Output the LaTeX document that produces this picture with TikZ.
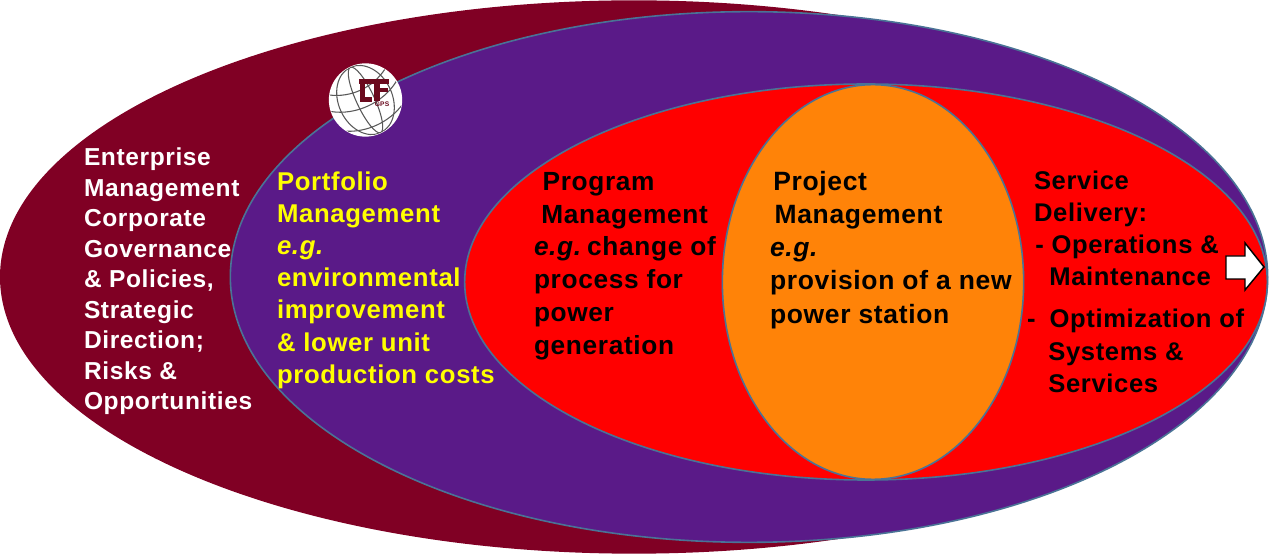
\documentclass[tikz,border=0pt]{standalone}
\usetikzlibrary{shapes.geometric}
\usepackage{fontspec}
\setmainfont{Liberation Sans}[LetterSpace=2.5]
\definecolor{maroonc}{HTML}{800024}
\definecolor{purplec}{HTML}{5A1A88}
\definecolor{redc}{HTML}{FF0000}
\definecolor{orangec}{HTML}{FF8308}
\definecolor{edgec}{HTML}{4A7396}
\definecolor{logoc}{HTML}{6B0A1E}
\definecolor{yellowc}{HTML}{FFFF00}
\tikzset{
  oval/.style={ellipse,draw=edgec,line width=1.2pt,inner sep=0pt,outer sep=0pt},
  txt/.style 2 args={anchor=north west,inner sep=0pt,outer sep=0pt,align=left,font=\fontsize{#1}{#2}\selectfont\bfseries},
  gridline/.style={draw=black!65,line width=0.8pt},
  tfbar/.style={fill=logoc,draw=none}
}
\begin{document}
\begin{tikzpicture}[x=0.75pt,y=-0.75pt]
\useasboundingbox (0,0) rectangle (1271,555);
\node[oval,draw=none,fill=maroonc,minimum width=951pt,minimum height=415pt] (enterprise) at (634,277) {};
\node[oval,fill=purplec,minimum width=778pt,minimum height=398pt] (portfolio) at (749,277) {};
\node[oval,fill=redc,minimum width=602pt,minimum height=297pt] (program) at (866,282) {};
\node[oval,fill=orangec,minimum width=226pt,minimum height=296pt] (project) at (873,282) {};
% texts
\node[txt={18.4pt}{22.85pt},text=white] (t1) at (84,148) {Enterprise\\Management\\Corporate\\Governance\\\&\ Policies,\\Strategic\\Direction;\\Risks \&\\Opportunities};
\node[txt={19.3pt}{24.15pt},text=yellowc] (t2) at (277,171.5) {Portfolio\\Management\\\textit{e.g.}\\environmental\\improvement\\\&\ lower unit\\production costs};
\node[txt={19.7pt}{24.7pt},text=black] (t3) at (534,172) {\hspace*{6.5pt}Program\\\hspace*{5.5pt}Management\\\textit{e.g.}\hspace*{4pt}change of\\process for\\power\\generation};
\node[txt={19.85pt}{24.95pt},text=black] (t4) at (770,171) {\hspace*{2.5pt}Project\\\hspace*{3.5pt}Management\\\textit{e.g.}\\provision of a new\\power station};
\node[txt={19.2pt}{24pt},text=black] (t5) at (1034,171) {Service\\Delivery:\\\hspace*{1pt}- Operations \&\\\hspace*{11.5pt}Maintenance};
\node[txt={19.2pt}{24.4pt},text=black] (t6) at (1027,309) {-\hspace*{10.5pt}Optimization of\\\hspace*{16pt}Systems \&\\\hspace*{16pt}Services};
% arrow
\draw[fill=white,draw=black,line width=1.1pt,line join=miter] (1226,256) -- (1245,256) -- (1245,243) -- (1264,267) -- (1245,290) -- (1245,279) -- (1226,279) -- cycle;
% logo
\node[circle,fill=white,minimum width=55pt,inner sep=0pt,outer sep=0pt] (globe) at (365.5,100) {};
\begin{scope}
\clip (globe.center) circle[radius=36];
\begin{scope}[shift={(globe.center)},rotate=25]
\draw[gridline] (0,0) ellipse[x radius=9,y radius=36];
\draw[gridline] (0,0) ellipse[x radius=27,y radius=36];
\draw[gridline] (-36,-4) .. controls (-15,10) and (15,10) .. (36,-4);
\draw[gridline] (-31,-20) .. controls (-12,-8) and (12,-8) .. (31,-20);
\draw[gridline] (-31,20) .. controls (-12,30) and (12,30) .. (31,20);
\end{scope}
\end{scope}
\fill[tfbar] (359,79) rectangle (389,84);
\fill[tfbar] (360,84) rectangle (365,102);
\fill[tfbar] (360,97) rectangle (372,102);
\fill[tfbar] (374,84) rectangle (380,101);
\fill[tfbar] (380,88) rectangle (388,92);
\node[inner sep=0pt,text=logoc,font=\fontsize{5pt}{5pt}\selectfont\bfseries] (gps) at (382,104.5) {GPS};
\end{tikzpicture}
\end{document}
